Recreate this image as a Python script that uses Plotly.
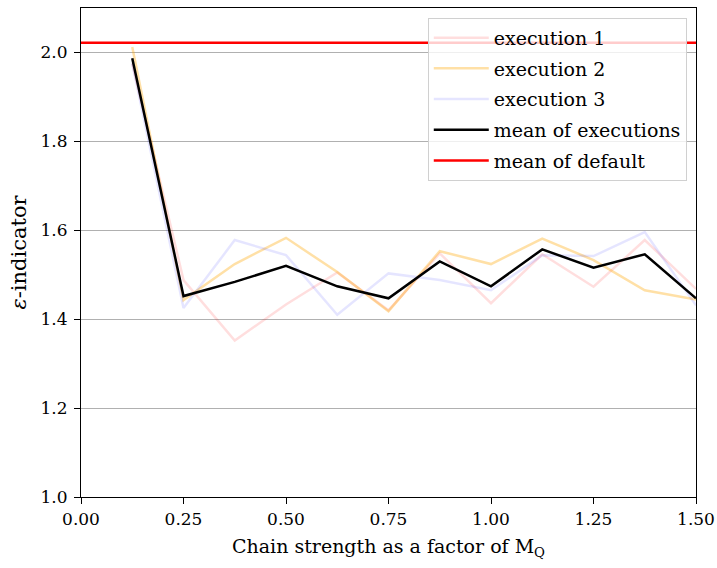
import plotly.graph_objects as go

x_vals = [0.125, 0.25, 0.375, 0.5, 0.625, 0.75, 0.875, 1.0, 1.125, 1.25, 1.375, 1.5]
exec1 = [1.975, 1.488, 1.352, 1.433, 1.505, 1.420, 1.548, 1.436, 1.546, 1.473, 1.578, 1.468]
exec2 = [2.012, 1.443, 1.524, 1.583, 1.506, 1.418, 1.553, 1.524, 1.581, 1.533, 1.465, 1.444]
exec3 = [1.975, 1.425, 1.578, 1.544, 1.410, 1.503, 1.488, 1.465, 1.544, 1.542, 1.596, 1.431]
mean_exec = [1.987, 1.452, 1.484, 1.520, 1.474, 1.447, 1.530, 1.474, 1.557, 1.516, 1.546, 1.447]
default_x = [0.0, 1.5]
default_mean = [2.022, 2.022]

FONT = "DejaVu Serif"

fig = go.Figure()
fig.add_trace(go.Scatter(x=x_vals, y=exec1, mode="lines", name="execution 1", legendgroup="g1",
                         line=dict(color="rgba(255,0,0,0.13)", width=2.5)))
fig.add_trace(go.Scatter(x=x_vals, y=exec2, mode="lines", name="execution 2", legendgroup="g2",
                         line=dict(color="rgba(255,165,0,0.35)", width=2.5)))
fig.add_trace(go.Scatter(x=x_vals, y=exec3, mode="lines", name="execution 3", legendgroup="g3",
                         line=dict(color="rgba(0,0,255,0.1)", width=2.5)))
fig.add_trace(go.Scatter(x=x_vals, y=mean_exec, mode="lines", name="mean of executions", legendgroup="g4",
                         line=dict(color="black", width=2.5)))
fig.add_trace(go.Scatter(x=default_x, y=default_mean, mode="lines", name="mean of default", legendgroup="g5",
                         line=dict(color="red", width=2.5)))

fig.update_layout(
    width=717, height=568,
    margin=dict(l=81, r=21, t=8, b=71),
    plot_bgcolor="white", paper_bgcolor="white",
    font=dict(family=FONT, size=17, color="black"),
    legend=dict(x=0.985, y=0.98, xanchor="right", yanchor="top",
                bgcolor="rgba(255,255,255,0.8)", bordercolor="#d0d0d0", borderwidth=1,
                font=dict(family=FONT, size=19), tracegroupgap=3, itemwidth=55),
    xaxis=dict(range=[0, 1.5], tickvals=[0, 0.25, 0.5, 0.75, 1.0, 1.25, 1.5],
               tickformat=".2f", showgrid=False, zeroline=False, automargin=False,
               showline=True, linecolor="black", linewidth=1.2, mirror=True,
               ticks="outside", ticklen=6, tickcolor="black",
               tickfont=dict(family=FONT, size=17),
               title=dict(text="Chain strength as a factor of M<sub>Q</sub>", standoff=12,
                          font=dict(family=FONT, size=19))),
    yaxis=dict(range=[1.0, 2.1], tickvals=[1.0, 1.2, 1.4, 1.6, 1.8, 2.0],
               tickformat=".1f", showgrid=True, gridcolor="#b0b0b0", gridwidth=1.2,
               zeroline=False, automargin=False, ticklabelstandoff=3,
               showline=True, linecolor="black", linewidth=1.2, mirror=True,
               ticks="outside", ticklen=6, tickcolor="black",
               tickfont=dict(family=FONT, size=17),
               title=dict(text="<i>ε</i>-indicator", standoff=8,
                          font=dict(family=FONT, size=21))),
)

fig.write_html("out.html")
